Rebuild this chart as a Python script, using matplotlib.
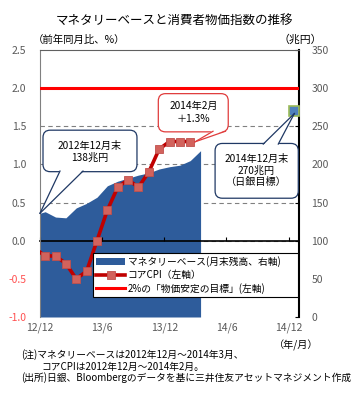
import matplotlib
matplotlib.use('Agg')
import matplotlib.pyplot as plt
import numpy as np
from matplotlib.patches import Patch, Polygon, FancyBboxPatch
from matplotlib.lines import Line2D

plt.rcParams['font.family'] = ['Noto Sans CJK JP', 'DejaVu Sans']

# ---------------- data ----------------
mb_months = ['2012-11', '2012-12', '2013-01', '2013-02', '2013-03', '2013-04', '2013-05',
             '2013-06', '2013-07', '2013-08', '2013-09', '2013-10', '2013-11', '2013-12',
             '2014-01', '2014-02', '2014-03']
monetary_base = [134, 138, 131, 130, 143, 149, 157, 172, 178, 182, 186, 189, 194, 197, 199, 205, 218]

cpi_months = ['2012-11', '2012-12', '2013-01', '2013-02', '2013-03', '2013-04', '2013-05',
              '2013-06', '2013-07', '2013-08', '2013-09', '2013-10', '2013-11', '2013-12',
              '2014-01', '2014-02']
core_cpi = [-0.1, -0.2, -0.2, -0.3, -0.5, -0.4, 0.0, 0.4, 0.7, 0.8, 0.7, 0.9, 1.2, 1.3, 1.3, 1.3]

target_month = '2014-12'
target_mb = 270
price_target = 2.0

x_tick_months = ['2012-12', '2013-06', '2013-12', '2014-06', '2014-12']
x_tick_labels = ['12/12', '13/6', '13/12', '14/6', '14/12']
left_ticks = [-1.0, -0.5, 0.0, 0.5, 1.0, 1.5, 2.0, 2.5]
right_ticks = [0, 50, 100, 150, 200, 250, 300, 350]

legend_labels = ['マネタリーベース(月末残高、右軸)', 'コアCPI（左軸）', '2%の「物価安定の目標」(左軸)']


def month_index(s):
    y, m = map(int, s.split('-'))
    return (y - 2012) * 12 + (m - 12)


def month_center(s):
    return month_index(s) + 0.5


# ---------------- figure ----------------
W, H = 351, 398
fig = plt.figure(figsize=(W / 100, H / 100), dpi=100)
ax = fig.add_axes([40 / W, 1 - 317 / H, 259 / W, 267 / H])
ax2 = ax.twinx()
ax.set_zorder(ax2.get_zorder() + 1)
ax.patch.set_visible(False)

ax.set_xlim(month_index('2012-12'), month_index('2015-01'))
ax.set_ylim(left_ticks[0], left_ticks[-1])
ax2.set_ylim(right_ticks[0], right_ticks[-1])

gray = '#595959'
area_color = '#2E5C9B'

# grid (right axis, under the area)
ax2.set_yticks(right_ticks)
ax2.set_axisbelow(True)
ax2.grid(axis='y', ls=(0, (4, 3)), color='#808080', lw=0.8)
for t, v in zip(ax2.yaxis.get_major_ticks(), right_ticks):
    if v in (right_ticks[0], right_ticks[-1]):
        t.gridline.set_visible(False)

# area: monetary base
x_mb = [month_center(m) for m in mb_months]
ax2.fill_between(x_mb, monetary_base, 0, color=area_color, lw=0, zorder=2)

# target 2%
ax.axhline(price_target, color='#FF0000', lw=2.2, zorder=3)

# core CPI
x_cpi = [month_center(m) for m in cpi_months]
cpi_line, = ax.plot(x_cpi, core_cpi, color='#C00000', lw=2.6, marker='s', ms=5.8,
                    mfc='#D2625C', mec='#C0504D', mew=0.6,
                    markevery=list(range(1, len(core_cpi))), zorder=4)

# 2014 target point
ax2.plot([month_center(target_month)], [target_mb], marker='s', ms=6.5, mfc='#4F81BD',
         mec='#9BBB59', mew=1.2, clip_on=False, zorder=5)

# zero axis with ticks
zero_frac = (0 - left_ticks[0]) / (left_ticks[-1] - left_ticks[0])
sec = ax.secondary_xaxis(zero_frac)
sec.set_xticks([month_index(m) for m in x_tick_months])
sec.tick_params(direction='in', length=3, labelbottom=False, color='black', width=0.8)
sec.spines['bottom'].set_linewidth(1.2)
sec.spines['bottom'].set_color('black')

# x tick labels at bottom
ax.set_xticks([month_index(m) for m in x_tick_months], labels=x_tick_labels)
ax.tick_params(axis='x', length=0, pad=4, labelsize=7.5, labelcolor=gray)

# left y
ax.set_yticks(left_ticks, labels=[f'{v:.1f}' for v in left_ticks])
ax.tick_params(axis='y', length=0, pad=10, labelsize=7.5)
for lab, v in zip(ax.get_yticklabels(), left_ticks):
    lab.set_color('#FF5050' if v < 0 else gray)

# right y
ax2.set_yticks(right_ticks, labels=[str(v) for v in right_ticks])
ax2.tick_params(axis='y', direction='in', length=3, pad=9, labelsize=7.5,
                color='black', labelcolor=gray)

# spines
for a in (ax, ax2):
    a.spines['bottom'].set_visible(False)
ax.spines['right'].set_visible(False)
ax2.spines['left'].set_visible(False)
ax2.spines['top'].set_visible(False)
ax.spines['left'].set_color('#808080')
ax.spines['top'].set_color('#606060')
ax2.spines['right'].set_color('black')
ax2.spines['right'].set_linewidth(1.5)

# legend
handles = [Patch(fc=area_color, ec='none'), cpi_line,
           Line2D([], [], color='#FF0000', lw=2.2)]
leg = ax.legend(handles, legend_labels, loc='center', bbox_to_anchor=(0.205, 0.075, 0.791, 0.165),
                mode='expand', fontsize=7, frameon=True, fancybox=False, framealpha=1,
                edgecolor='black', borderpad=0.35, labelspacing=0.3, handlelength=2.9,
                handletextpad=0.3, borderaxespad=0)
leg.get_frame().set_linewidth(0.8)
leg.set_zorder(10)

# callouts
xpx = 259 / (ax.get_xlim()[1] - ax.get_xlim()[0])
ypx = 267 / (ax.get_ylim()[1] - ax.get_ylim()[0])
aspect = xpx / ypx


def callout(x0, x1, y0, y1, base, tip, text, tx, ty, color, ls=1.15):
    box = FancyBboxPatch((x0, y0), x1 - x0, y1 - y0,
                         boxstyle='round,pad=0,rounding_size=0.7', mutation_aspect=aspect,
                         fc='white', ec=color, lw=0.9, zorder=6, clip_on=False)
    ax.add_patch(box)
    (bx0, by0), (bx1, by1) = base
    poly = Polygon([(bx0, by0), (bx1, by1), tip], closed=True, fc='white', ec='none',
                   zorder=6.5, clip_on=False)
    ax.add_patch(poly)
    edge0 = (bx0, by0 + (0.012 if by0 < tip[1] else -0.012))
    edge1 = (bx1, by1 + (0.012 if by1 < tip[1] else -0.012))
    ax.add_line(Line2D([edge0[0], tip[0]], [edge0[1], tip[1]], color=color, lw=0.9,
                       zorder=6.6, clip_on=False))
    ax.add_line(Line2D([edge1[0], tip[0]], [edge1[1], tip[1]], color=color, lw=0.9,
                       zorder=6.6, clip_on=False))
    ax.text(tx, ty, text, ha='center', va='center', fontsize=7.3, linespacing=ls,
            zorder=7, color='black')


navy = '#1F3864'
callout(0.29, 9.36, 0.905, 1.449, [(1.93, 0.925), (4.15, 0.925)], (0.0, 0.36),
        '2012年12月末\n138兆円', 4.83, 1.17, navy, ls=1.2)
callout(11.42, 18.17, 1.427, 1.928, [(16.7, 1.447), (17.9, 1.447)], (14.96, 1.296),
        '2014年2月\n＋1.3%', 14.8, 1.68, '#E03C3C', ls=1.3)
callout(16.9, 24.93, 0.557, 1.275, [(21.55, 1.255), (23.0, 1.255)], (24.55, 1.667),
        '2014年12月末\n270兆円\n（日銀目標）', 20.9, 0.92, navy, ls=1.2)

# texts
fig.text(174 / W, 1 - 20 / H, 'マネタリーベースと消費者物価指数の推移', ha='center', va='center',
         fontsize=9)
fig.text(33 / W, 1 - 40 / H, '（前年同月比、%）', ha='left', va='center', fontsize=7.5)
fig.text(322 / W, 1 - 40 / H, '（兆円）', ha='right', va='center', fontsize=7.8)
fig.text(318 / W, 1 - 345 / H, '（年/月）', ha='right', va='center', fontsize=7.3)
fig.text(21 / W, 1 - 355 / H, '(注)マネタリーベースは2012年12月～2014年3月、', ha='left', va='center',
         fontsize=7)
fig.text(41 / W, 1 - 366.5 / H, 'コアCPIは2012年12月～2014年2月。', ha='left', va='center', fontsize=7)
fig.text(21 / W, 1 - 378 / H, '(出所)日銀、Bloombergのデータを基に三井住友アセットマネジメント作成',
         ha='left', va='center', fontsize=7)

fig.savefig('out.png', dpi=100)
